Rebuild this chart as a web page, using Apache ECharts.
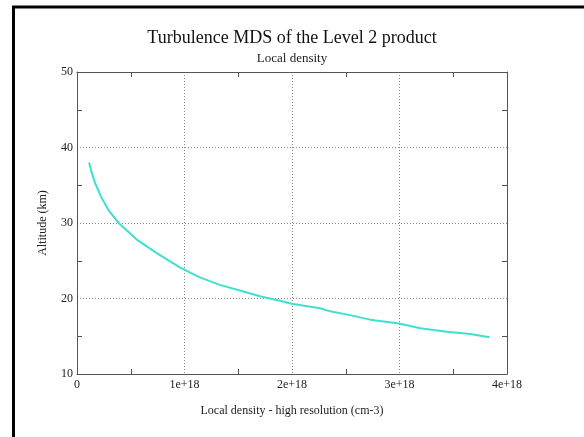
<!DOCTYPE html>
<html>
<head>
<meta charset="utf-8">
<script src="https://cdn.jsdelivr.net/npm/echarts@6/dist/echarts.min.js"></script>
<style>
  html, body { margin: 0; padding: 0; background: #fff; }
  #chart { width: 584px; height: 437px; }
</style>
</head>
<body>
<div id="chart"></div>
<script>
// Local density profile (cm-3) against altitude (km)
const density = [
  0.112e18, 0.137e18, 0.168e18, 0.23e18, 0.298e18, 0.395e18, 0.556e18, 0.742e18,
  0.96e18, 1.143e18, 1.329e18, 1.516e18, 1.702e18, 1.888e18, 1.997e18, 2.261e18,
  2.354e18, 2.54e18, 2.727e18, 2.997e18, 3.193e18, 3.441e18, 3.658e18, 3.838e18
];
const altitude = [
  38.0, 36.7, 35.3, 33.3, 31.6, 29.9, 27.8, 26.0,
  24.1, 22.8, 21.8, 21.05, 20.3, 19.7, 19.3, 18.7,
  18.3, 17.8, 17.2, 16.7, 16.06, 15.6, 15.3, 14.87
];
const xTickLabels = ['0', '1e+18', '2e+18', '3e+18', '4e+18'];

const FONT = '"Liberation Serif", "DejaVu Serif", serif';
const TEXT = '#222';
const AXIS = '#555';
const gridDots = { color: '#888', width: 1, type: [1, 2] };

const chart = echarts.init(document.getElementById('chart'), null, { renderer: 'canvas' });

// Frame axes: dotted grid at whole steps, short inward marks at half steps
const xBase = {
  type: 'value', min: 0, max: 4e18, interval: 1e18,
  axisLine: { show: true, onZero: false, lineStyle: { color: AXIS, width: 1 } },
  axisTick: { show: false, inside: true },
  minorTick: { show: true, splitNumber: 2, length: 5, lineStyle: { color: AXIS, width: 1 } }
};
const yBase = {
  type: 'value', min: 10, max: 50, interval: 10,
  axisLine: { show: true, onZero: false, lineStyle: { color: AXIS, width: 1 } },
  axisTick: { show: false, inside: true },
  minorTick: { show: true, splitNumber: 2, length: 5, lineStyle: { color: AXIS, width: 1 } }
};

chart.setOption({
  animation: false,
  backgroundColor: '#fff',
  title: [
    {
      text: 'Turbulence MDS of the Level 2 product',
      left: 'center', top: 24,
      textStyle: { fontFamily: FONT, fontSize: 18, fontWeight: 'normal', color: '#111' }
    },
    {
      text: 'Local density',
      left: 'center', top: 47,
      textStyle: { fontFamily: FONT, fontSize: 13, fontWeight: 'normal', color: TEXT }
    }
  ],
  graphic: [
    {
      type: 'rect', silent: true,
      shape: { x: 13.5, y: 7, width: 700, height: 600 },
      style: { fill: null, stroke: '#000', lineWidth: 3 }
    }
  ],
  grid: { left: 77, right: 77, top: 72, bottom: 63, containLabel: false },
  xAxis: [
    Object.assign({}, xBase, {
      position: 'bottom',
      name: 'Local density - high resolution (cm-3)',
      nameLocation: 'middle', nameGap: 31,
      nameTextStyle: { fontFamily: FONT, fontSize: 12, color: TEXT },
      axisLabel: {
        fontFamily: FONT, fontSize: 12, color: TEXT, margin: 5,
        formatter: function (v) { return xTickLabels[Math.round(v / 1e18)]; }
      },
      splitLine: {
        show: true, lineStyle: gridDots,
        showMinLine: false, showMaxLine: false
      }
    }),
    Object.assign({}, xBase, {
      position: 'top',
      axisLabel: { show: false },
      splitLine: { show: false }
    })
  ],
  yAxis: [
    Object.assign({}, yBase, {
      position: 'left',
      name: 'Altitude (km)',
      nameLocation: 'middle', nameGap: 28, nameRotate: 90,
      nameTextStyle: { fontFamily: FONT, fontSize: 12, color: TEXT },
      axisLabel: { fontFamily: FONT, fontSize: 12, color: TEXT, margin: 4 },
      splitLine: {
        show: true, lineStyle: gridDots,
        showMinLine: false, showMaxLine: false
      }
    }),
    Object.assign({}, yBase, {
      position: 'right',
      axisLabel: { show: false },
      splitLine: { show: false }
    })
  ],
  series: [
    {
      type: 'line',
      xAxisIndex: 0, yAxisIndex: 0,
      data: density.map(function (d, i) { return [d, altitude[i]]; }),
      showSymbol: false,
      smooth: false,
      lineStyle: { color: '#40E0D0', width: 2 },
      silent: true
    }
  ]
});
</script>
</body>
</html>
